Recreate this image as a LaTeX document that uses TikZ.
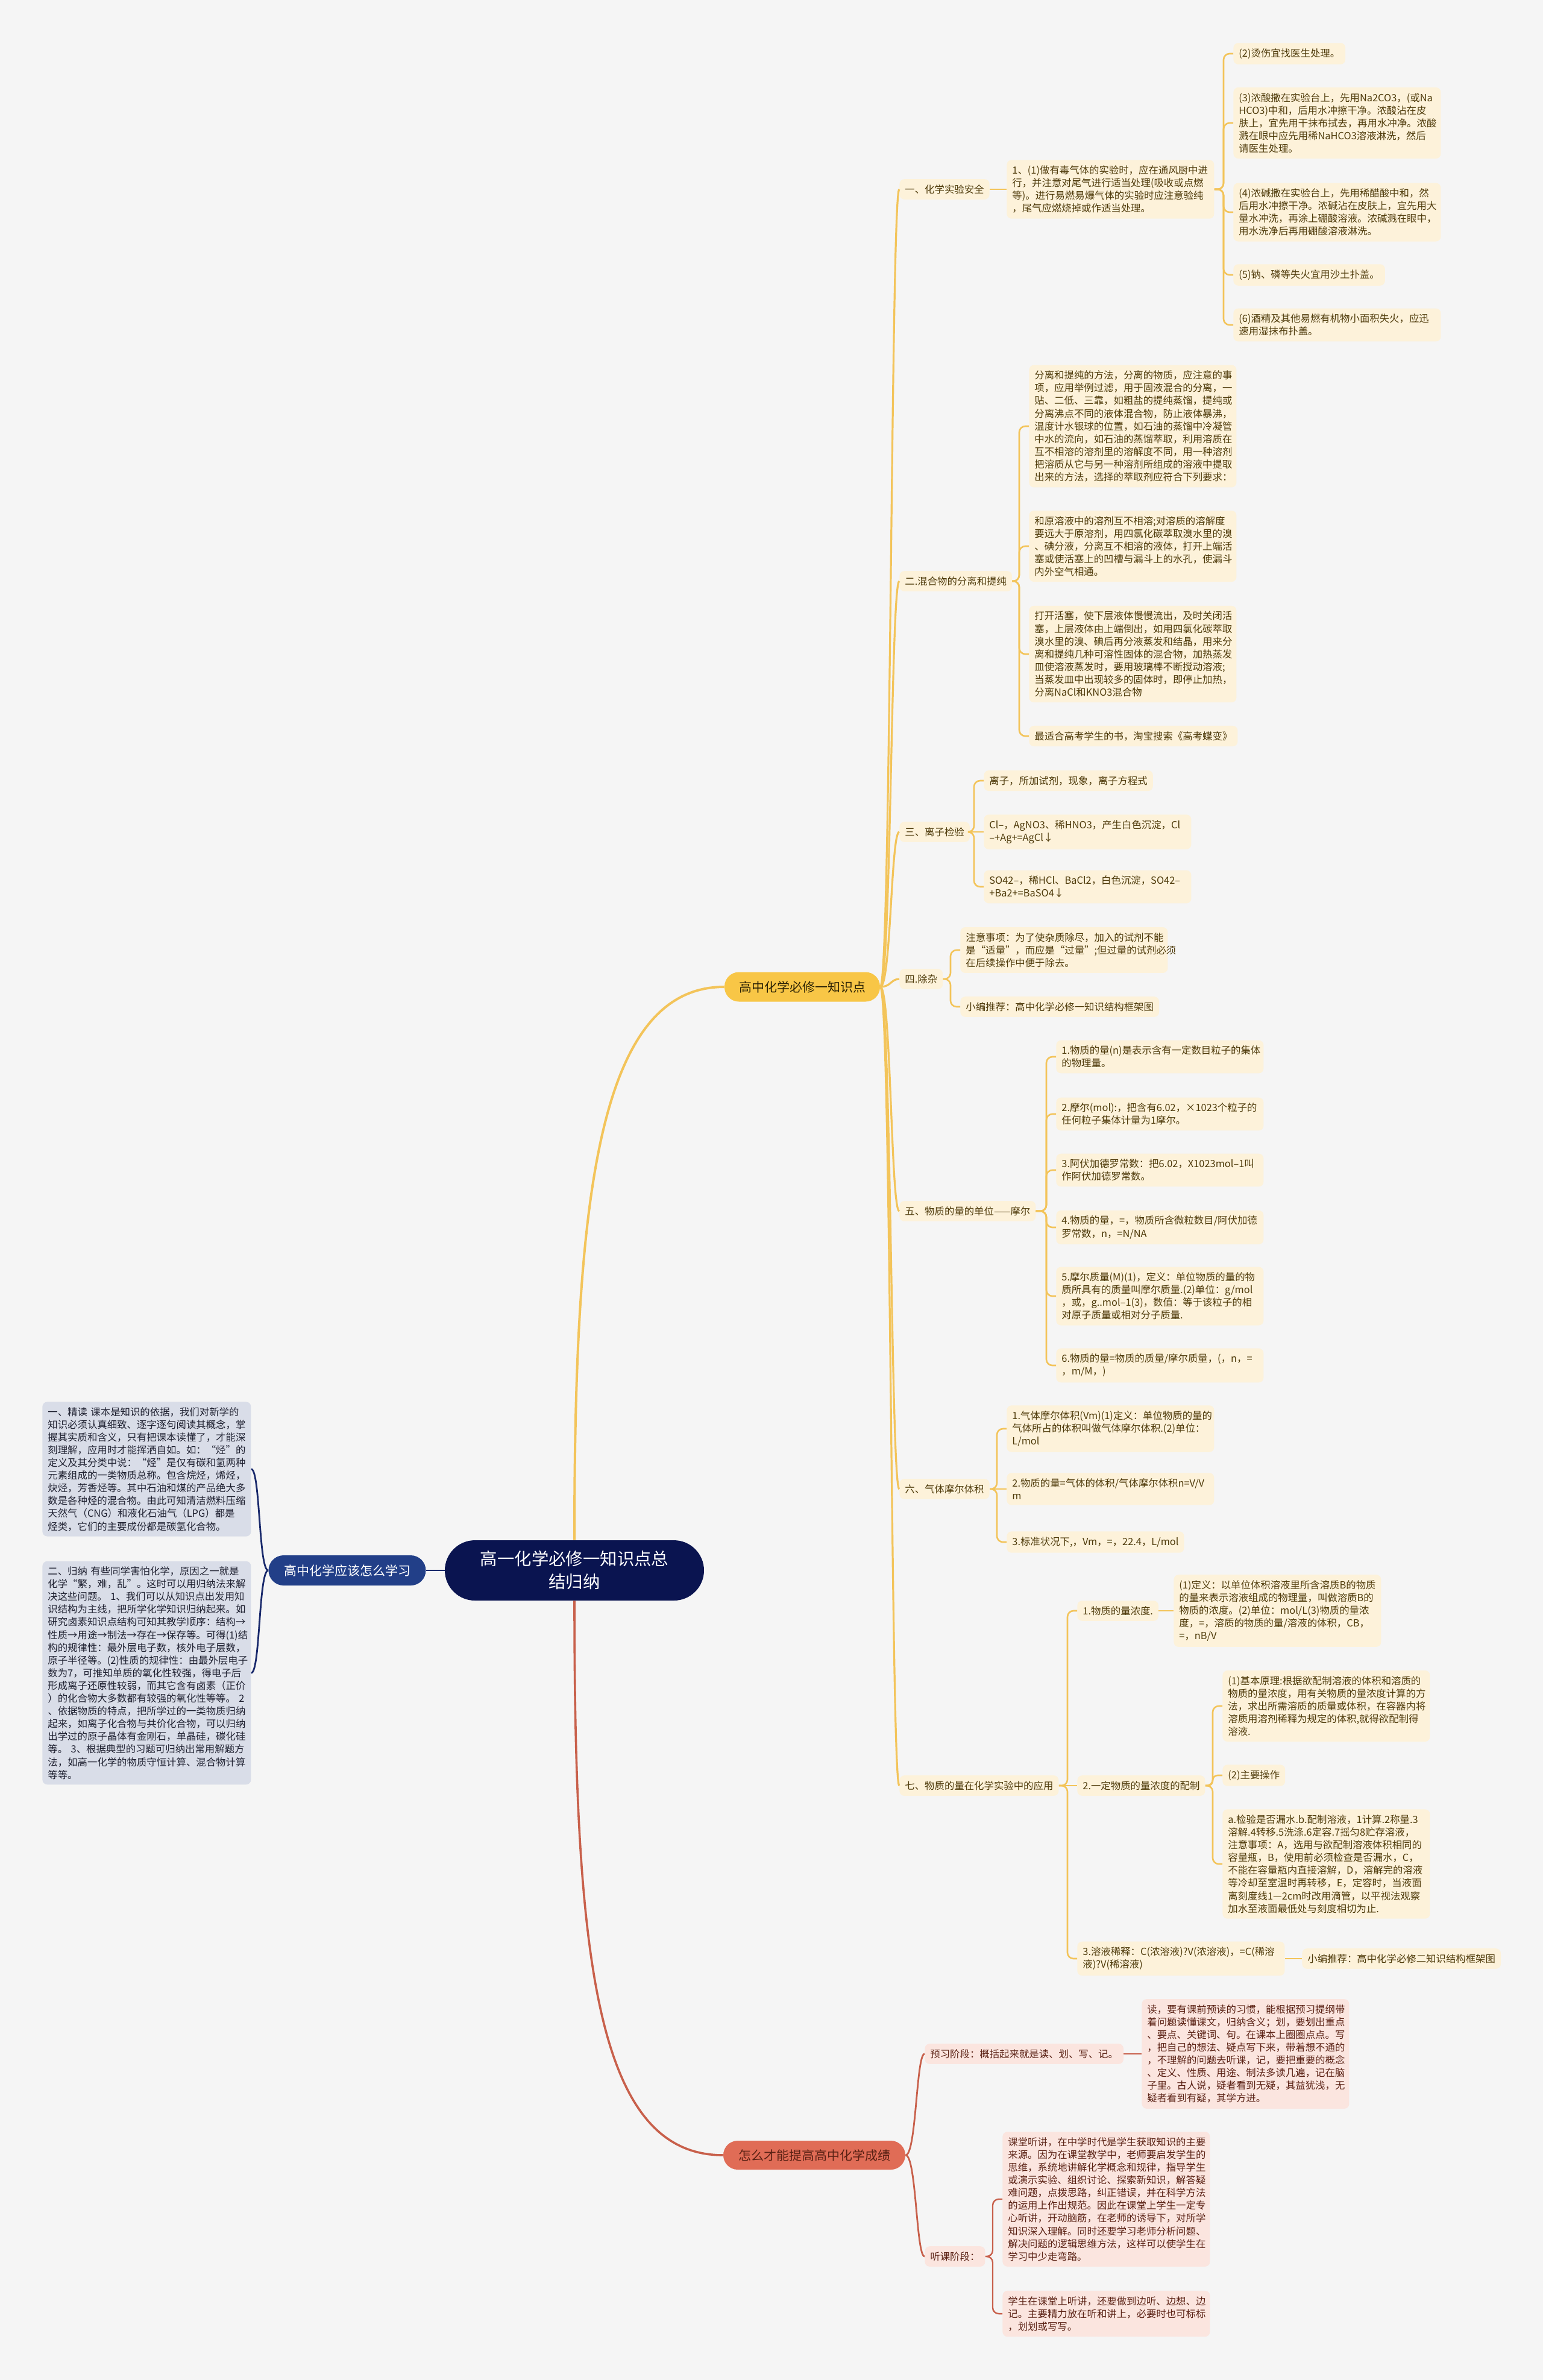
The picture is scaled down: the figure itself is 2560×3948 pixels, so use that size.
\documentclass[tikz,border=0pt]{standalone}
\usepackage{fontspec}
\setmainfont{Noto Sans CJK SC}
\definecolor{bgc}{HTML}{F5F5F5}
\definecolor{yline}{HTML}{F3C45A}
\definecolor{ycream}{HTML}{FDF2DA}
\definecolor{ybrown}{HTML}{4F3B0B}
\definecolor{ymain}{HTML}{F8C646}
\definecolor{ydark}{HTML}{2A2105}
\definecolor{rline}{HTML}{C8604B}
\definecolor{rmain}{HTML}{E06C56}
\definecolor{rcream}{HTML}{FBE5DF}
\definecolor{rbrown}{HTML}{5A2114}
\definecolor{navy}{HTML}{0A1450}
\definecolor{bmain}{HTML}{223F88}
\definecolor{bline}{HTML}{1A2A6C}
\definecolor{bgrey}{HTML}{D9DDE8}
\definecolor{bdark}{HTML}{1E2030}
\begin{document}
\begin{tikzpicture}[x=0.5pt,y=-0.5pt,
  txt/.style={font=\fontsize{8.2}{10.55}\selectfont},
  leafy/.style={txt, fill=ycream, text=ybrown, rounded corners=4pt, anchor=west, align=left, inner xsep=4.5pt, inner ysep=4.6pt},
  leafr/.style={leafy, fill=rcream, text=rbrown},
  leafb/.style={leafy, fill=bgrey, text=bdark, text width=164pt, inner ysep=4.4pt},
  wide/.style={text width=163pt},
  root/.style={fill=navy, text=white, rounded corners=25pt, minimum width=215pt, minimum height=50pt, align=center, font=\fontsize{14.2}{19}\selectfont},
  lbr/.style={fill=bmain, text=white, rounded corners=12.5pt, minimum width=130.5pt, minimum height=25pt, font=\fontsize{10.5}{12}\selectfont},
  ybr/.style={fill=ymain, text=ydark, rounded corners=12pt, minimum width=129pt, minimum height=24.5pt, font=\fontsize{10.5}{12}\selectfont},
  rbr/.style={fill=rmain, text=rbrown, rounded corners=12pt, minimum width=151pt, minimum height=24pt, font=\fontsize{10.5}{12}\selectfont},
  ym/.style={draw=yline, line width=1.6pt},
  yk/.style={draw=yline, line width=1.3pt, rounded corners=5pt},
  rm/.style={draw=rline, line width=1.4pt},
  rk/.style={draw=rline, line width=1.2pt, rounded corners=5pt},
  bm/.style={draw=bline, line width=1.4pt}]
\fill[bgc] (0,0) rectangle (2560,3948);

% centre and first level
\node[root] (root) at (953,2605) {高一化学必修一知识点总\\结归纳};
\node[lbr] (lb) at (576,2605) {高中化学应该怎么学习};
\node[ybr] (yb) at (1331,1637) {高中化学必修一知识点};
\node[rbr] (rb) at (1351,3575) {怎么才能提高高中化学成绩};

% left side
\node[leafb] (lb1) at (70,2437) {一、精读~课本是知识的依据，我们对新学的\\知识必须认真细致、逐字逐句阅读其概念，掌\\握其实质和含义，只有把课本读懂了，才能深\\刻理解，应用时才能挥洒自如。如：“烃”的\\定义及其分类中说：“烃”是仅有碳和氢两种\\元素组成的一类物质总称。包含烷烃，烯烃，\\炔烃，芳香烃等。其中石油和煤的产品绝大多\\数是各种烃的混合物。由此可知清洁燃料压缩\\天然气（CNG）和液化石油气（LPG）都是\\烃类，它们的主要成份都是碳氢化合物。};
\node[leafb] (lb2) at (70,2775) {二、归纳~有些同学害怕化学，原因之一就是\\化学“繁，难，乱”。这时可以用归纳法来解\\决这些问题。~1、我们可以从知识点出发用知\\识结构为主线，把所学化学知识归纳起来。如\\研究卤素知识点结构可知其教学顺序：结构→\\性质→用途→制法→存在→保存等。可得(1)结\\构的规律性：最外层电子数，核外电子层数，\\原子半径等。(2)性质的规律性：由最外层电子\\数为7，可推知单质的氧化性较强，得电子后\\形成离子还原性较弱，而其它含有卤素（正价\\）的化合物大多数都有较强的氧化性等等。~2\\、依据物质的特点，把所学过的一类物质归纳\\起来，如离子化合物与共价化合物，可以归纳\\出学过的原子晶体有金刚石，单晶硅，碳化硅\\等。~3、根据典型的习题可归纳出常用解题方\\法，如高一化学的物质守恒计算、混合物计算\\等等。};

% section one
\node[leafy] (s1) at (1492,314) {一、化学实验安全};
\node[leafy, wide] (s1a) at (1670,314) {1、(1)做有毒气体的实验时，应在通风厨中进\\行，并注意对尾气进行适当处理(吸收或点燃\\等)。进行易燃易爆气体的实验时应注意验纯\\，尾气应燃烧掉或作适当处理。};
\node[leafy] (s1a1) at (2046,89) {(2)烫伤宜找医生处理。};
\node[leafy, wide] (s1a2) at (2046,204) {(3)浓酸撒在实验台上，先用Na2CO3，(或Na\\HCO3)中和，后用水冲擦干净。浓酸沾在皮\\肤上，宜先用干抹布拭去，再用水冲净。浓酸\\溅在眼中应先用稀NaHCO3溶液淋洗，然后\\请医生处理。};
\node[leafy, wide] (s1a3) at (2046,352) {(4)浓碱撒在实验台上，先用稀醋酸中和，然\\后用水冲擦干净。浓碱沾在皮肤上，宜先用大\\量水冲洗，再涂上硼酸溶液。浓碱溅在眼中，\\用水洗净后再用硼酸溶液淋洗。};
\node[leafy] (s1a4) at (2046,456) {(5)钠、磷等失火宜用沙土扑盖。};
\node[leafy, wide] (s1a5) at (2046,539) {(6)酒精及其他易燃有机物小面积失火，应迅\\速用湿抹布扑盖。};

% section two
\node[leafy] (s2) at (1492,964) {二.混合物的分离和提纯};
\node[leafy, wide] (s2a) at (1707,707) {分离和提纯的方法，分离的物质，应注意的事\\项，应用举例过滤，用于固液混合的分离，一\\贴、二低、三靠，如粗盐的提纯蒸馏，提纯或\\分离沸点不同的液体混合物，防止液体暴沸，\\温度计水银球的位置，如石油的蒸馏中冷凝管\\中水的流向，如石油的蒸馏萃取，利用溶质在\\互不相溶的溶剂里的溶解度不同，用一种溶剂\\把溶质从它与另一种溶剂所组成的溶液中提取\\出来的方法，选择的萃取剂应符合下列要求：};
\node[leafy, wide] (s2b) at (1707,906) {和原溶液中的溶剂互不相溶;对溶质的溶解度\\要远大于原溶剂，用四氯化碳萃取溴水里的溴\\、碘分液，分离互不相溶的液体，打开上端活\\塞或使活塞上的凹槽与漏斗上的水孔，使漏斗\\内外空气相通。};
\node[leafy, wide] (s2c) at (1707,1085) {打开活塞，使下层液体慢慢流出，及时关闭活\\塞，上层液体由上端倒出，如用四氯化碳萃取\\溴水里的溴、碘后再分液蒸发和结晶，用来分\\离和提纯几种可溶性固体的混合物，加热蒸发\\皿使溶液蒸发时，要用玻璃棒不断搅动溶液;\\当蒸发皿中出现较多的固体时，即停止加热，\\分离NaCl和KNO3混合物};
\node[leafy] (s2d) at (1707,1221) {最适合高考学生的书，淘宝搜索《高考蝶变》};

% section three
\node[leafy] (s3) at (1492,1380) {三、离子检验};
\node[leafy] (s3a) at (1632,1295) {离子，所加试剂，现象，离子方程式};
\node[leafy, wide] (s3b) at (1632,1380) {Cl–，AgNO3、稀HNO3，产生白色沉淀，Cl\\–+Ag+=AgCl↓};
\node[leafy, wide] (s3c) at (1632,1471) {SO42–，稀HCl、BaCl2，白色沉淀，SO42–\\+Ba2+=BaSO4↓};

% section four
\node[leafy] (s4) at (1492,1624) {四.除杂};
\node[leafy, wide] (s4a) at (1593,1576) {注意事项：为了使杂质除尽，加入的试剂不能\\是“适量”，而应是“过量”;但过量的试剂必须\\在后续操作中便于除去。};
\node[leafy] (s4b) at (1593,1670) {小编推荐：高中化学必修一知识结构框架图};

% section five
\node[leafy] (s5) at (1492,2009) {五、物质的量的单位——摩尔};
\node[leafy, wide] (s5a) at (1752,1753) {1.物质的量(n)是表示含有一定数目粒子的集体\\的物理量。};
\node[leafy, wide] (s5b) at (1752,1848) {2.摩尔(mol):，把含有6.02，×1023个粒子的\\任何粒子集体计量为1摩尔。};
\node[leafy, wide] (s5c) at (1752,1941) {3.阿伏加德罗常数：把6.02，X1023mol–1叫\\作阿伏加德罗常数。};
\node[leafy, wide] (s5d) at (1752,2036) {4.物质的量，=，物质所含微粒数目/阿伏加德\\罗常数，n，=N/NA};
\node[leafy, wide] (s5e) at (1752,2150) {5.摩尔质量(M)(1)，定义：单位物质的量的物\\质所具有的质量叫摩尔质量.(2)单位：g/mol\\，或，g..mol–1(3)，数值：等于该粒子的相\\对原子质量或相对分子质量.};
\node[leafy, wide] (s5f) at (1752,2265) {6.物质的量=物质的质量/摩尔质量，(，n，=\\，m/M，)};

% section six
\node[leafy] (s6) at (1492,2470) {六、气体摩尔体积};
\node[leafy, wide] (s6a) at (1670,2370) {1.气体摩尔体积(Vm)(1)定义：单位物质的量的\\气体所占的体积叫做气体摩尔体积.(2)单位：\\L/mol};
\node[leafy, wide] (s6b) at (1670,2470) {2.物质的量=气体的体积/气体摩尔体积n=V/V\\m};
\node[leafy] (s6c) at (1670,2558) {3.标准状况下,，Vm，=，22.4，L/mol};

% section seven
\node[leafy] (s7) at (1492,2962) {七、物质的量在化学实验中的应用};
\node[leafy] (s7a) at (1787,2672) {1.物质的量浓度.};
\node[leafy, wide] (s7a1) at (1947,2672) {(1)定义：以单位体积溶液里所含溶质B的物质\\的量来表示溶液组成的物理量，叫做溶质B的\\物质的浓度。(2)单位：mol/L(3)物质的量浓\\度，=，溶质的物质的量/溶液的体积，CB，\\=，nB/V};
\node[leafy] (s7b) at (1787,2962) {2.一定物质的量浓度的配制};
\node[leafy, wide] (s7b1) at (2028,2830) {(1)基本原理:根据欲配制溶液的体积和溶质的\\物质的量浓度，用有关物质的量浓度计算的方\\法，求出所需溶质的质量或体积，在容器内将\\溶质用溶剂稀释为规定的体积,就得欲配制得\\溶液.};
\node[leafy] (s7b2) at (2028,2945) {(2)主要操作};
\node[leafy, wide] (s7b3) at (2028,3092) {a.检验是否漏水.b.配制溶液，1计算.2称量.3\\溶解.4转移.5洗涤.6定容.7摇匀8贮存溶液，\\注意事项：A，选用与欲配制溶液体积相同的\\容量瓶，B，使用前必须检查是否漏水，C，\\不能在容量瓶内直接溶解，D，溶解完的溶液\\等冷却至室温时再转移，E，定容时，当液面\\离刻度线1—2cm时改用滴管，以平视法观察\\加水至液面最低处与刻度相切为止.};
\node[leafy, wide] (s7c) at (1787,3249) {3.溶液稀释：C(浓溶液)?V(浓溶液)，=C(稀溶\\液)?V(稀溶液)};
\node[leafy] (s7c1) at (2160,3249) {小编推荐：高中化学必修二知识结构框架图};

% bottom branch
\node[leafr] (rb1) at (1534,3407) {预习阶段：概括起来就是读、划、写、记。};
\node[leafr, wide] (rb1a) at (1894,3407) {读，要有课前预读的习惯，能根据预习提纲带\\着问题读懂课文，归纳含义；划，要划出重点\\、要点、关键词、句。在课本上圈圈点点。写\\，把自己的想法、疑点写下来，带着想不通的\\，不理解的问题去听课，记，要把重要的概念\\、定义、性质、用途、制法多读几遍，记在脑\\子里。古人说，疑者看到无疑，其益犹浅，无\\疑者看到有疑，其学方进。};
\node[leafr] (rb2) at (1534,3743) {听课阶段：};
\node[leafr, wide] (rb2a) at (1663,3648) {课堂听讲，在中学时代是学生获取知识的主要\\来源。因为在课堂教学中，老师要启发学生的\\思维，系统地讲解化学概念和规律，指导学生\\或演示实验、组织讨论、探索新知识，解答疑\\难问题，点拨思路，纠正错误，并在科学方法\\的运用上作出规范。因此在课堂上学生一定专\\心听讲，开动脑筋，在老师的诱导下，对所学\\知识深入理解。同时还要学习老师分析问题、\\解决问题的逻辑思维方法，这样可以使学生在\\学习中少走弯路。};
\node[leafr, wide] (rb2b) at (1663,3838) {学生在课堂上听讲，还要做到边听、边想、边\\记。主要精力放在听和讲上，必要时也可标标\\，划划或写写。};

% connectors from the centre
\draw[bm] (root.west) -- (lb.east);
\draw[ym, line width=2pt] (root.north) .. controls +(0,-555) and +(-212,0) .. (yb.west);
\draw[rm, line width=1.8pt] (root.south) .. controls +(0,595) and +(-210,0) .. (rb.west);
\draw[bm] (lb.west) .. controls +(-16,0) and +(15,0) .. (lb1.east);
\draw[bm] (lb.west) .. controls +(-16,0) and +(15,0) .. (lb2.east);

% yellow trunk
\draw[ym] (yb.east) .. controls +(18,0) and +(-14,0) .. (s1.west);
\draw[ym] (yb.east) .. controls +(18,0) and +(-14,0) .. (s2.west);
\draw[ym] (yb.east) .. controls +(18,0) and +(-14,0) .. (s3.west);
\draw[ym] (yb.east) .. controls +(18,0) and +(-14,0) .. (s4.west);
\draw[ym] (yb.east) .. controls +(18,0) and +(-14,0) .. (s5.west);
\draw[ym] (yb.east) .. controls +(18,0) and +(-14,0) .. (s6.west);
\draw[ym] (yb.east) .. controls +(18,0) and +(-14,0) .. (s7.west);

% yellow brackets
\draw[yk] (s1.east) -- (s1a.west);
\draw[yk] (s1a.east) -| ([xshift=-8pt]s1a1.west) -- (s1a1.west);
\draw[yk] (s1a.east) -| ([xshift=-8pt]s1a2.west) -- (s1a2.west);
\draw[yk] (s1a.east) -| ([xshift=-8pt]s1a3.west) -- (s1a3.west);
\draw[yk] (s1a.east) -| ([xshift=-8pt]s1a4.west) -- (s1a4.west);
\draw[yk] (s1a.east) -| ([xshift=-8pt]s1a5.west) -- (s1a5.west);
\draw[yk] (s2.east) -| ([xshift=-8pt]s2a.west) -- (s2a.west);
\draw[yk] (s2.east) -| ([xshift=-8pt]s2b.west) -- (s2b.west);
\draw[yk] (s2.east) -| ([xshift=-8pt]s2c.west) -- (s2c.west);
\draw[yk] (s2.east) -| ([xshift=-8pt]s2d.west) -- (s2d.west);
\draw[yk] (s3.east) -| ([xshift=-8pt]s3a.west) -- (s3a.west);
\draw[yk] (s3.east) -- (s3b.west);
\draw[yk] (s3.east) -| ([xshift=-8pt]s3c.west) -- (s3c.west);
\draw[yk] (s4.east) -| ([xshift=-8pt]s4a.west) -- (s4a.west);
\draw[yk] (s4.east) -| ([xshift=-8pt]s4b.west) -- (s4b.west);
\draw[yk] (s5.east) -| ([xshift=-8pt]s5a.west) -- (s5a.west);
\draw[yk] (s5.east) -| ([xshift=-8pt]s5b.west) -- (s5b.west);
\draw[yk] (s5.east) -| ([xshift=-8pt]s5c.west) -- (s5c.west);
\draw[yk] (s5.east) -| ([xshift=-8pt]s5d.west) -- (s5d.west);
\draw[yk] (s5.east) -| ([xshift=-8pt]s5e.west) -- (s5e.west);
\draw[yk] (s5.east) -| ([xshift=-8pt]s5f.west) -- (s5f.west);
\draw[yk] (s6.east) -| ([xshift=-8pt]s6a.west) -- (s6a.west);
\draw[yk] (s6.east) -- (s6b.west);
\draw[yk] (s6.east) -| ([xshift=-8pt]s6c.west) -- (s6c.west);
\draw[yk] (s7.east) -| ([xshift=-8pt]s7a.west) -- (s7a.west);
\draw[yk] (s7.east) -- (s7b.west);
\draw[yk] (s7.east) -| ([xshift=-8pt]s7c.west) -- (s7c.west);
\draw[yk] (s7a.east) -- (s7a1.west);
\draw[yk] (s7b.east) -| ([xshift=-8pt]s7b1.west) -- (s7b1.west);
\draw[yk, rounded corners=4pt] (s7b.east) -| ([xshift=-8pt]s7b2.west) -- (s7b2.west);
\draw[yk] (s7b.east) -| ([xshift=-8pt]s7b3.west) -- (s7b3.west);
\draw[yk] (s7c.east) -- (s7c1.west);

% red side
\draw[rm] (rb.east) .. controls +(18,0) and +(-14,0) .. (rb1.west);
\draw[rm] (rb.east) .. controls +(18,0) and +(-14,0) .. (rb2.west);
\draw[rk] (rb1.east) -- (rb1a.west);
\draw[rk] (rb2.east) -| ([xshift=-8pt]rb2a.west) -- (rb2a.west);
\draw[rk] (rb2.east) -| ([xshift=-8pt]rb2b.west) -- (rb2b.west);
\end{tikzpicture}
\end{document}
